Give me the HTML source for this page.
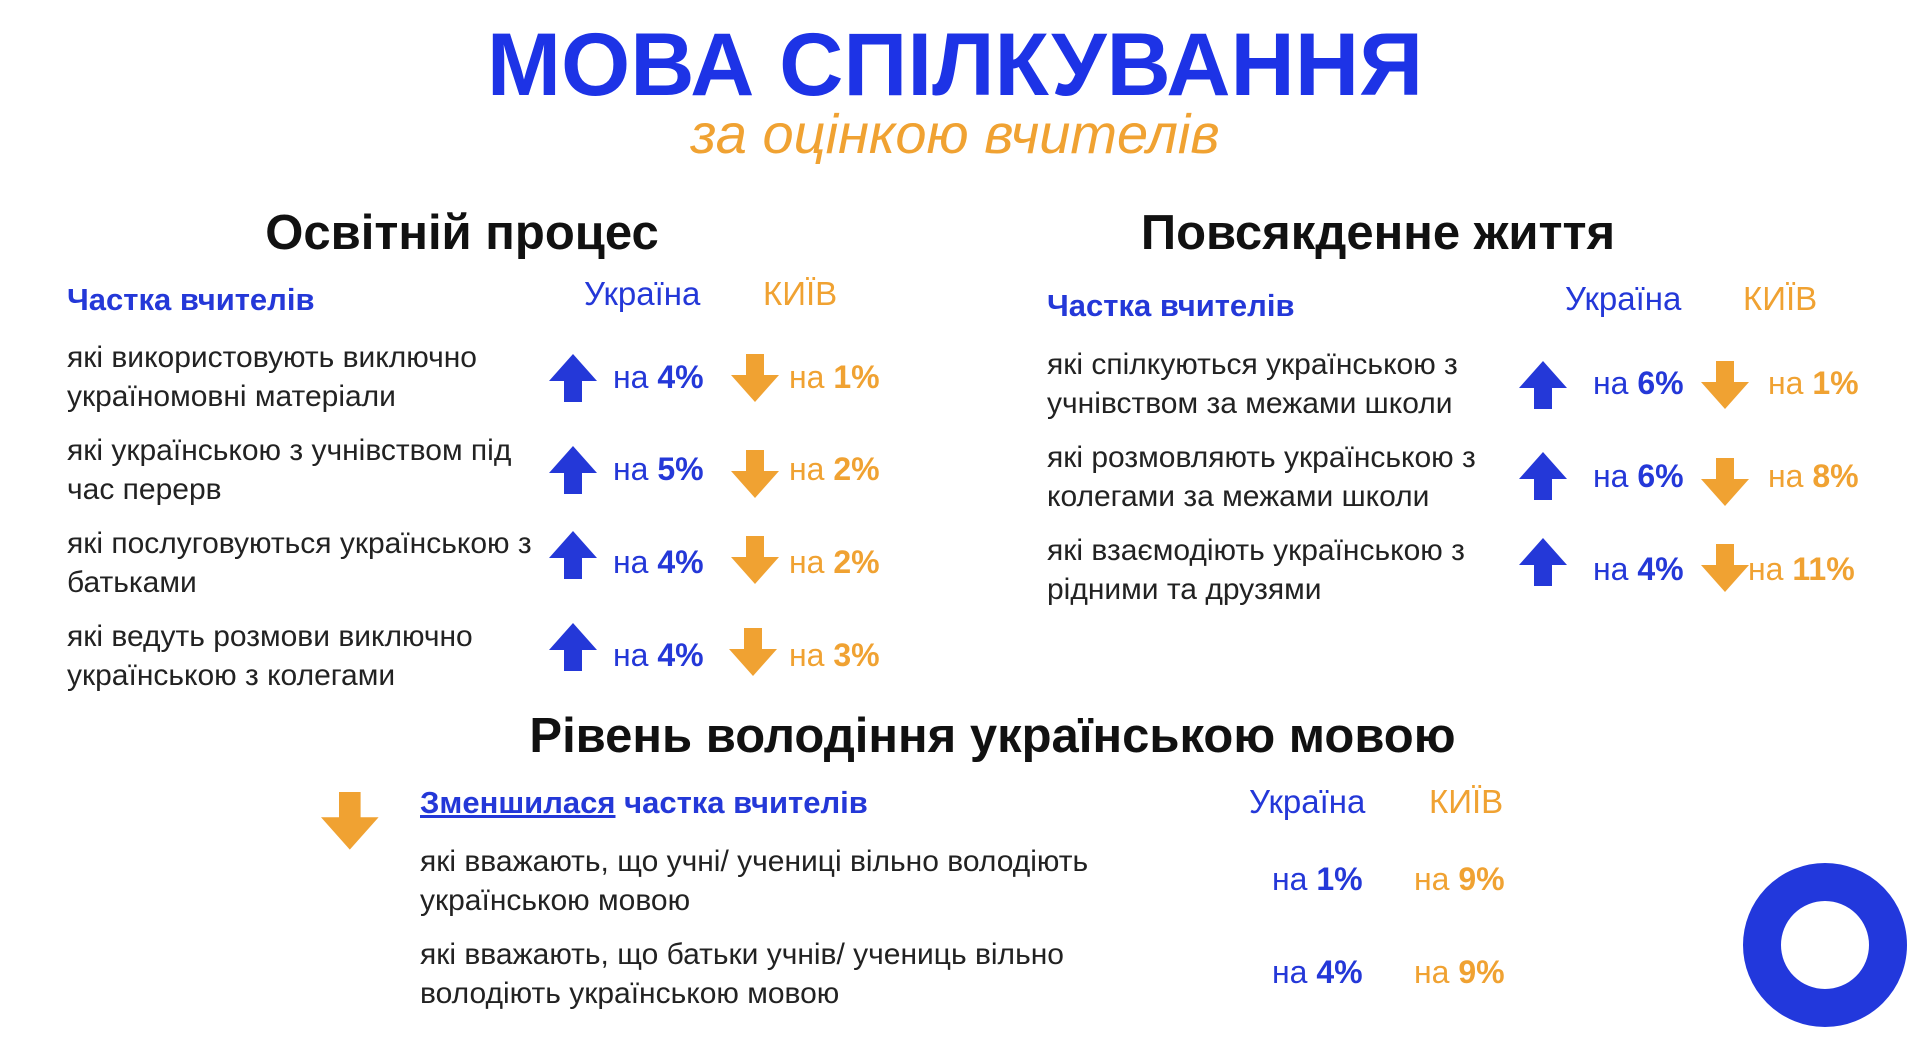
<!DOCTYPE html>
<html><head><meta charset="utf-8"><style>
body{margin:0;width:1920px;height:1045px;background:#fff;position:relative;overflow:hidden;font-family:"Liberation Sans",sans-serif;color:#222}
.a{position:absolute;white-space:nowrap}
.t{font-size:30px;line-height:39px}
.b{color:#2438d8}.o{color:#f0a232}
.pct{font-size:32px;line-height:36px}
.pct b{font-weight:bold}
.hd{font-size:31px;font-weight:bold;line-height:36px}
.cl{font-size:33px;line-height:38px}
svg{position:absolute}
</style></head><body>
<div class="a b" style="left:0;width:1910px;text-align:center;top:12px;font-size:89px;font-weight:bold;line-height:104px;color:#1d33e6">МОВА СПІЛКУВАННЯ</div>
<div class="a o" style="left:0;width:1910px;text-align:center;top:102px;font-size:56px;font-style:italic;line-height:64px">за оцінкою вчителів</div>

<div class="a" style="left:0;width:924px;text-align:center;top:205px;font-size:49px;font-weight:bold;line-height:56px;color:#111">Освітній процес</div>
<div class="a" style="left:1078px;width:600px;text-align:center;top:205px;font-size:49px;font-weight:bold;line-height:56px;color:#111">Повсякденне життя</div>

<div class="a b hd" style="left:67px;top:282px">Частка вчителів</div>
<div class="a b cl" style="left:584px;top:275px">Україна</div>
<div class="a o cl" style="left:763px;top:275px">КИЇВ</div>

<div class="a t" style="left:67px;top:338px">які використовують виключно<br>україномовні матеріали</div>
<div class="a t" style="left:67px;top:431px">які українською з учнівством під<br>час перерв</div>
<div class="a t" style="left:67px;top:524px">які послуговуються українською з<br>батьками</div>
<div class="a t" style="left:67px;top:617px">які ведуть розмови виключно<br>українською з колегами</div>

<div class="a b hd" style="left:1047px;top:288px">Частка вчителів</div>
<div class="a b cl" style="left:1565px;top:280px">Україна</div>
<div class="a o cl" style="left:1743px;top:280px">КИЇВ</div>

<div class="a t" style="left:1047px;top:345px">які спілкуються українською з<br>учнівством за межами школи</div>
<div class="a t" style="left:1047px;top:438px">які розмовляють українською з<br>колегами за межами школи</div>
<div class="a t" style="left:1047px;top:531px">які взаємодіють українською з<br>рідними та друзями</div>

<div class="a" style="left:0;width:1985px;text-align:center;top:708px;font-size:49px;font-weight:bold;line-height:56px;color:#111">Рівень володіння українською мовою</div>
<div class="a b hd" style="left:420px;top:785px"><span style="text-decoration:underline">Зменшилася</span> частка вчителів</div>
<div class="a b cl" style="left:1249px;top:783px">Україна</div>
<div class="a o cl" style="left:1429px;top:783px">КИЇВ</div>
<div class="a t" style="left:420px;top:842px">які вважають, що учні/ учениці вільно володіють<br>українською мовою</div>
<div class="a t" style="left:420px;top:935px">які вважають, що батьки учнів/ учениць вільно<br>володіють українською мовою</div>

<div class="a pct b" style="left:613px;top:359px">на <b>4%</b></div><div class="a pct o" style="left:789px;top:359px">на <b>1%</b></div>
<div class="a pct b" style="left:613px;top:451px">на <b>5%</b></div><div class="a pct o" style="left:789px;top:451px">на <b>2%</b></div>
<div class="a pct b" style="left:613px;top:544px">на <b>4%</b></div><div class="a pct o" style="left:789px;top:544px">на <b>2%</b></div>
<div class="a pct b" style="left:613px;top:637px">на <b>4%</b></div><div class="a pct o" style="left:789px;top:637px">на <b>3%</b></div>
<div class="a pct b" style="left:1593px;top:365px">на <b>6%</b></div><div class="a pct o" style="left:1768px;top:365px">на <b>1%</b></div>
<div class="a pct b" style="left:1593px;top:458px">на <b>6%</b></div><div class="a pct o" style="left:1768px;top:458px">на <b>8%</b></div>
<div class="a pct b" style="left:1593px;top:551px">на <b>4%</b></div><div class="a pct o" style="left:1748px;top:551px">на <b>11%</b></div>
<div class="a pct b" style="left:1272px;top:861px">на <b>1%</b></div><div class="a pct o" style="left:1414px;top:861px">на <b>9%</b></div>
<div class="a pct b" style="left:1272px;top:954px">на <b>4%</b></div><div class="a pct o" style="left:1414px;top:954px">на <b>9%</b></div>

<svg width="1920" height="1045" style="left:0;top:0">
<defs>
<polygon id="up" points="24,0 48,27 33,27 33,48 15,48 15,27 0,27" fill="#2438d8"/>
<polygon id="dn" points="15,0 33,0 33,21 48,21 24,48 0,21 15,21" fill="#f0a232"/>
</defs>
<use href="#up" x="549" y="354"/><use href="#dn" x="731" y="354"/>
<use href="#up" x="549" y="446"/><use href="#dn" x="731" y="450"/>
<use href="#up" x="549" y="531"/><use href="#dn" x="731" y="536"/>
<use href="#up" x="549" y="623"/><use href="#dn" x="729" y="628"/>
<use href="#up" x="1519" y="361"/><use href="#dn" x="1701" y="361"/>
<use href="#up" x="1519" y="452"/><use href="#dn" x="1701" y="458"/>
<use href="#up" x="1519" y="538"/><use href="#dn" x="1701" y="544"/>
<g transform="translate(321,792) scale(1.2)"><use href="#dn"/></g>
<circle cx="1825" cy="945" r="63" fill="none" stroke="#2238dc" stroke-width="38"/>
</svg>
</body></html>
